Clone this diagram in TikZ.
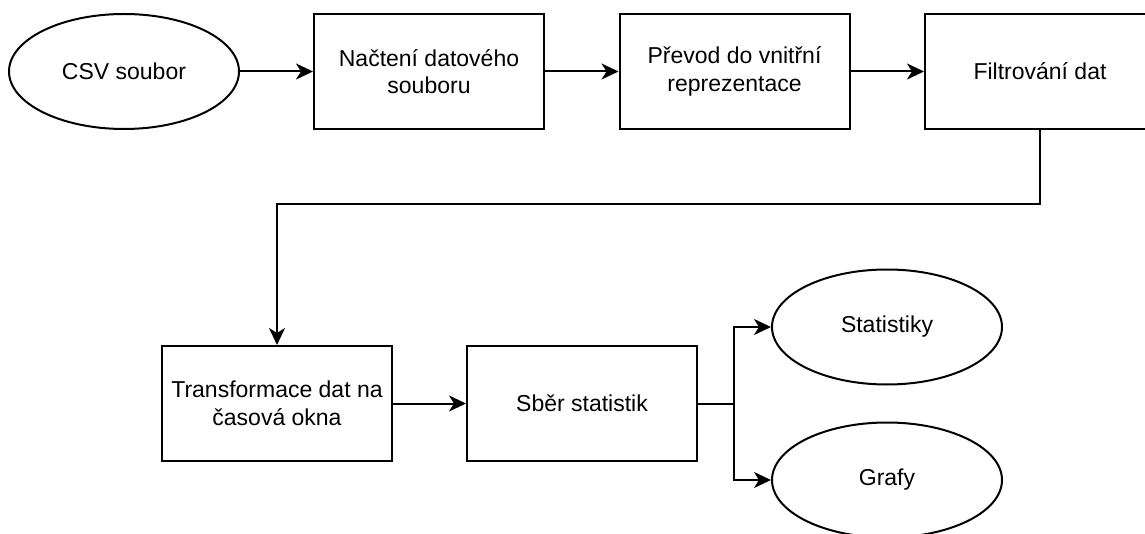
\documentclass[tikz,border=0pt]{standalone}
\usepackage{fontspec}
\setmainfont{Liberation Sans}
\usetikzlibrary{arrows.meta,shapes.geometric}

\tikzset{
  flow/.style={line width=2pt,-{Stealth[length=17pt,width=16pt,inset=5pt]}},
  plain/.style={line width=2pt},
  stepbox/.style={draw,line width=2pt,rectangle,minimum width=230pt,minimum height=115pt,
    align=center,font=\fontsize{23}{27.6}\selectfont,inner sep=0pt},
  datafile/.style={draw,line width=2pt,ellipse,minimum width=230pt,minimum height=115pt,
    align=center,font=\fontsize{23}{27.6}\selectfont,inner sep=0pt}
}

\begin{document}
\begin{tikzpicture}[x=1pt,y=-1pt]
\useasboundingbox (0,0) rectangle (1145,534);
% The top row: input file and first steps
\node [datafile] (csv file) at (124,71.5) {CSV soubor};
\node [stepbox] (load step) at (429,71.5) {Načtení datového\\souboru};
\node [stepbox] (convert step) at (734.5,71.5) {Převod do vnitřní\\reprezentace};
\node [stepbox] (filter step) at (1040,71.5) {Filtrování dat};
% The bottom row
\node [stepbox] (window step) at (277,403.5) {Transformace dat na\\časová okna};
\node [stepbox] (collect step) at (582,403.5) {Sběr statistik};
\node [datafile] (stats out) at (887,327) {Statistiky};
\node [datafile] (graphs out) at (887,480) {Grafy};
\coordinate (turn) at (1040,204.5);
\coordinate (fork) at (734,403.5);
% Connections
\draw [flow] (csv file) -- (load step);
\draw [flow] (load step) -- (convert step);
\draw [flow] (convert step) -- (filter step);
\draw [flow] (filter step) -- (turn) -| (window step);
\draw [flow] (window step) -- (collect step);
\draw [plain] (collect step) -- (fork);
\foreach \out in {stats out,graphs out}
{
\draw [flow] (fork) |- (\out);
}
\end{tikzpicture}
\end{document}
